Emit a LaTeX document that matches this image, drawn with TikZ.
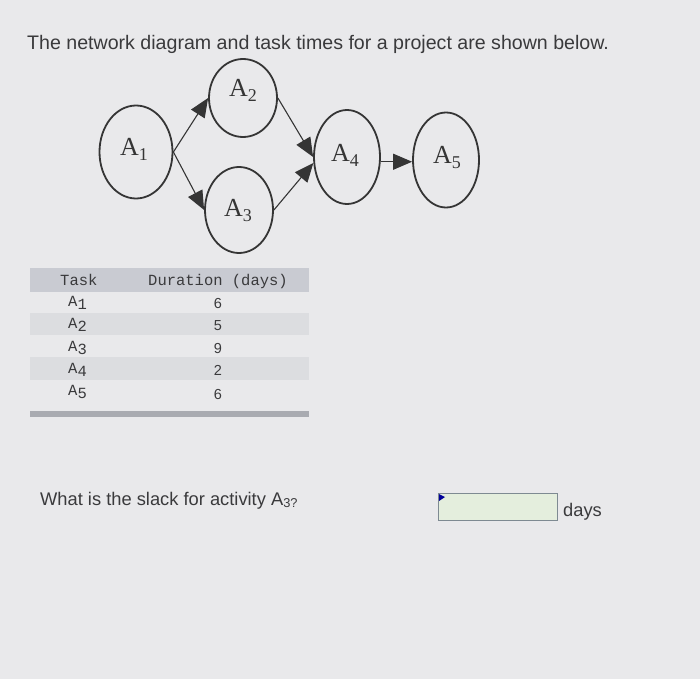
\documentclass[tikz,border=0pt]{standalone}
\usepackage{fontspec}
\setmainfont{Liberation Sans}
\newfontfamily\timesf{Liberation Serif}
\newfontfamily\monof{Liberation Mono}
\usetikzlibrary{shapes.geometric,arrows.meta}
\definecolor{bgc}{HTML}{E9E9EB}
\definecolor{ink}{HTML}{353535}
\definecolor{hdr}{HTML}{C9CBD2}
\definecolor{band}{HTML}{DCDDE0}
\definecolor{barc}{HTML}{A9ABB1}
\definecolor{boxfill}{HTML}{E4EEDD}
\definecolor{boxline}{HTML}{7E8A92}
\definecolor{txt}{HTML}{3A3A3C}
\tikzset{
  act/.style={draw=ink, line width=1.8pt, ellipse, inner sep=0pt},
  albl/.style={font=\timesf\fontsize{26}{26}\selectfont, text=ink, inner sep=0pt},
  con/.style={draw=ink, line width=1.1pt, -{Triangle[length=19pt,width=16pt]}},
  mono/.style={font=\monof\fontsize{15.5}{16}\selectfont, text=txt, inner sep=0pt, anchor=base west},
  num/.style={font=\fontsize{14.5}{14}\selectfont, text=txt, inner sep=0pt, anchor=base},
  sans/.style={font=\fontsize{18.3}{18}\selectfont, text=txt, inner sep=0pt, anchor=base west},
}
\newcommand{\sbt}[1]{\raisebox{-3pt}{#1}}
\newcommand{\sbl}[1]{\raisebox{-5pt}{\fontsize{18}{18}\selectfont #1}}
\begin{document}
\begin{tikzpicture}[x=1pt,y=-1pt]
\fill[bgc] (0,0) rectangle (700,679);
\useasboundingbox (0,0) rectangle (700,679);
% title
\node[sans, font=\fontsize{19.6}{20}\selectfont] (title) at (27,50) {The network diagram and task times for a project are shown below.};
% network
\node[act, minimum width=73pt, minimum height=93pt] (A1) at (136,152) {};
\node[act, minimum width=68pt, minimum height=78pt] (A2) at (243,98) {};
\node[act, minimum width=68pt, minimum height=86pt] (A3) at (239,210) {};
\node[act, minimum width=66pt, minimum height=94pt] (A4) at (347,157) {};
\node[act, minimum width=66pt, minimum height=95pt] (A5) at (446,160) {};
\node[albl] (L1) at (134,149) {A\sbl{1}};
\node[albl] (L2) at (243,90) {A\sbl{2}};
\node[albl] (L3) at (238,211) {A\sbl{3}};
\node[albl] (L4) at (345,155) {A\sbl{4}};
\node[albl] (L5) at (447,158) {A\sbl{5}};
\draw[con] (A1.east) -- (A2.west);
\draw[con] (A1.east) -- (A3.west);
\draw[con] (A2.east) -- (A4.west);
\draw[con] (A3.east) -- (A4.190);
\draw[con] (A4.-8) -- (A4.-8 -| A5.west);
% table
\fill[hdr] (30,268) rectangle (309,292);
\fill[band] (30,313) rectangle (309,335);
\fill[band] (30,357) rectangle (309,380);
\fill[barc] (30,411) rectangle (309,417);
\node[mono] (th1) at (60,285) {Task};
\node[mono] (th2) at (148,285) {Duration (days)};
\node[mono] (t1) at (68,306) {A\sbt{1}};
\node[mono] (t2) at (68,328) {A\sbt{2}};
\node[mono] (t3) at (68,351) {A\sbt{3}};
\node[mono] (t4) at (68,373) {A\sbt{4}};
\node[mono] (t5) at (68,395) {A\sbt{5}};
\node[num] (d1) at (218,308) {6};
\node[num] (d2) at (218,330) {5};
\node[num] (d3) at (218,353) {9};
\node[num] (d4) at (218,375) {2};
\node[num] (d5) at (218,399) {6};
% question
\node[sans] (q) at (40,505) {What is the slack for activity A\textsubscript{3?}};
\draw[draw=boxline, fill=boxfill, line width=1pt] (438,493) rectangle (557,520);
\node[inner sep=0pt, minimum size=0pt] (box) at (497.5,506.5) {};
\fill[blue!60!black] (439,494) -- (445,497) -- (439,501) -- cycle;
\node[sans] (days) at (563,516) {days};
\end{tikzpicture}
\end{document}
